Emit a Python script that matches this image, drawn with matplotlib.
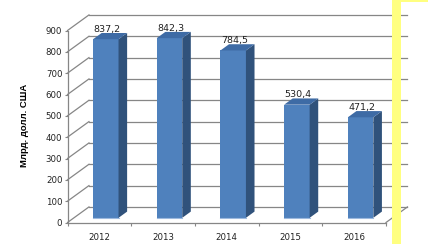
import matplotlib
matplotlib.use("Agg")
import matplotlib.pyplot as plt
from matplotlib.patches import Polygon, Rectangle

years = ["2012", "2013", "2014", "2015", "2016"]
values = [837.2, 842.3, 784.5, 530.4, 471.2]
yticks = list(range(0, 1000, 100))
ylabel = "Млрд. долл. США"

# oblique depth offset of the 3D box, in data units
DX = 0.337
DY = 73.0
D0, D1 = 0.3, 0.7  # bar depth range (fraction of box depth)
W0, W1 = 0.3, 0.7  # bar width range inside the category

front_c = "#4F81BD"
top_c = "#3E6BA5"
side_c = "#30527B"
grid_c = "#868686"

plt.rcParams["font.family"] = ["DejaVu Sans"]
fig = plt.figure(figsize=(4.28, 2.52), dpi=100)
ax = fig.add_axes([67.5 / 428, 29.5 / 252, 318.5 / 428, 192 / 252])
ax.set_xlim(0, len(years))
ax.set_ylim(0, 900)

for s in ["top", "right"]:
    ax.spines[s].set_visible(False)
for s in ["left", "bottom"]:
    ax.spines[s].set_color(grid_c)
    ax.spines[s].set_linewidth(0.9)

ax.set_yticks(yticks)
ax.set_yticklabels([str(v) for v in yticks])
ax.tick_params(axis="y", length=2.2, pad=1.5, color=grid_c, labelsize=6.2,
               labelcolor="#222222")
ax.set_xticks(range(len(years) + 1))
ax.set_xticklabels([])
ax.set_xticks([i + 0.5 for i in range(len(years))], minor=True)
ax.set_xticklabels(years, minor=True)
ax.tick_params(axis="x", which="major", length=2.5, color=grid_c)
ax.tick_params(axis="x", which="minor", length=0, pad=7.5, labelsize=6.2,
               labelcolor="#222222")

ax.set_ylabel(ylabel, fontsize=6.8, fontweight="bold",
              family=["Liberation Sans", "DejaVu Sans"])
ax.yaxis.set_label_coords(-0.121, 0.508)

n = len(years)
# back wall gridlines and left wall obliques
for v in yticks:
    ax.plot([DX, n + DX], [v + DY, v + DY], color=grid_c, lw=0.9,
            clip_on=False, zorder=1)
    ax.plot([0, DX], [v, v + DY], color=grid_c, lw=0.9, clip_on=False,
            zorder=1)
ax.plot([n, n + DX], [0, DY], color=grid_c, lw=0.9, clip_on=False, zorder=1)

# bars
for i, v in enumerate(values):
    x0 = i + W0 + D0 * DX
    x1 = i + W1 + D0 * DX
    y0 = D0 * DY
    ddx = (D1 - D0) * DX
    ddy = (D1 - D0) * DY
    front = Polygon([(x0, y0), (x1, y0), (x1, v + y0), (x0, v + y0)],
                    closed=True, fc=front_c, ec="none", zorder=3,
                    clip_on=False)
    side = Polygon([(x1, y0), (x1 + ddx, y0 + ddy), (x1 + ddx, v + y0 + ddy),
                    (x1, v + y0)], closed=True, fc=side_c, ec="none",
                   zorder=3, clip_on=False)
    top = Polygon([(x0, v + y0), (x1, v + y0), (x1 + ddx, v + y0 + ddy),
                   (x0 + ddx, v + y0 + ddy)], closed=True, fc=top_c,
                  ec="none", zorder=3, clip_on=False)
    for p in (front, side, top):
        ax.add_patch(p)
    ax.plot([x0, x1], [y0, y0], color="#9DB9DE", lw=0.8, zorder=4,
            clip_on=False)
    ax.text(i + 0.5 + D0 * DX + 0.02, v + D1 * DY - 4,
            f"{v:.1f}".replace(".", ","), ha="center", va="bottom",
            fontsize=6.8, color="#222222", zorder=5, clip_on=False)

# yellow frame fragment on the right
fig.patches.append(Rectangle((392 / 428, 8 / 252), 9 / 428, 244 / 252,
                             transform=fig.transFigure, fc="#FFFF80",
                             ec="none", zorder=10))
fig.patches.append(Rectangle((392 / 428, 250 / 252), 36 / 428, 2 / 252,
                             transform=fig.transFigure, fc="#FFFF80",
                             ec="none", zorder=10))

fig.savefig("out.png", dpi=100)
